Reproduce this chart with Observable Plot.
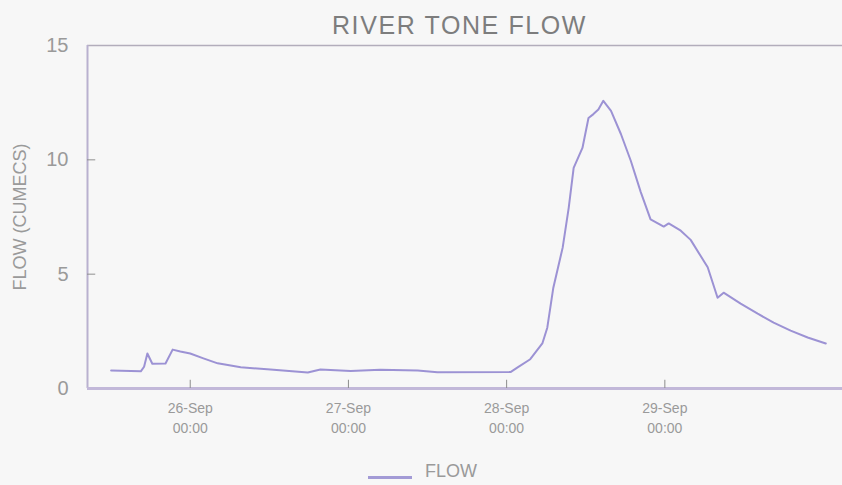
<!DOCTYPE html>
<html>
<head>
<meta charset="utf-8">
<script src="https://cdn.jsdelivr.net/npm/d3@7"></script>
<script src="https://cdn.jsdelivr.net/npm/@observablehq/plot@0.6"></script>
<style>
  html, body { margin: 0; padding: 0; background: #f7f7f7; }
  #wrap { position: relative; width: 842px; height: 485px; overflow: hidden; font-family: "Liberation Sans", Arial, sans-serif; }
  #legend { position: absolute; left: 368px; top: 462px; display: flex; align-items: flex-end; gap: 13px; }
  #legend .sw { width: 44px; height: 3px; background: #a39bd6; margin-bottom: 1px; }
  #legend .lb { font-size: 18px; line-height: 18px; color: #9a9a9a; }
</style>
</head>
<body>
<div id="wrap">
  <div id="chart"></div>
  <div id="legend"><span class="sw"></span><span class="lb">FLOW</span></div>
</div>
<script>
const title = "RIVER TONE FLOW";
const yLabel = "FLOW (CUMECS)";
const seriesName = "FLOW";

const times = [
  "2023-09-25T12:00", "2023-09-25T16:30", "2023-09-25T17:00", "2023-09-25T17:30",
  "2023-09-25T18:15", "2023-09-25T20:15", "2023-09-25T21:20", "2023-09-25T22:30",
  "2023-09-26T00:00", "2023-09-26T02:00", "2023-09-26T04:10", "2023-09-26T07:40",
  "2023-09-26T12:10", "2023-09-26T17:50", "2023-09-26T19:45", "2023-09-27T00:20",
  "2023-09-27T04:50", "2023-09-27T10:30", "2023-09-27T13:30", "2023-09-28T00:35",
  "2023-09-28T01:40", "2023-09-28T03:35", "2023-09-28T05:25", "2023-09-28T06:10",
  "2023-09-28T07:05", "2023-09-28T08:30", "2023-09-28T09:25", "2023-09-28T10:10",
  "2023-09-28T11:30", "2023-09-28T12:25", "2023-09-28T13:10", "2023-09-28T13:55",
  "2023-09-28T14:40", "2023-09-28T15:50", "2023-09-28T17:20", "2023-09-28T18:50",
  "2023-09-28T20:20", "2023-09-28T21:50", "2023-09-28T23:50", "2023-09-29T00:35",
  "2023-09-29T02:25", "2023-09-29T03:55", "2023-09-29T06:30", "2023-09-29T08:00",
  "2023-09-29T08:55", "2023-09-29T11:30", "2023-09-29T14:05", "2023-09-29T16:30",
  "2023-09-29T19:05", "2023-09-29T21:40", "2023-09-30T00:25"
];
const flow = [
  0.79, 0.75, 0.95, 1.53,
  1.08, 1.09, 1.70, 1.62,
  1.53, 1.32, 1.10, 0.93,
  0.83, 0.70, 0.83, 0.76,
  0.82, 0.79, 0.71, 0.72,
  0.92, 1.28, 1.97, 2.66,
  4.41, 6.16, 7.90, 9.65,
  10.52, 11.83, 12.00, 12.20,
  12.58, 12.14, 11.13, 9.96,
  8.60, 7.40, 7.08, 7.22,
  6.90, 6.50, 5.30, 3.97,
  4.19, 3.71, 3.27, 2.88,
  2.53, 2.23, 1.97
];
const yTicks = [0, 5, 10, 15];
const yInnerTicks = [5, 10];
const dayTicks = ["2023-09-26T00:00", "2023-09-27T00:00", "2023-09-28T00:00", "2023-09-29T00:00"];

const data = times.map((t, i) => ({date: new Date(t + "Z"), flow: flow[i]}));
const dayDates = dayTicks.map(t => new Date(t + "Z"));
const xDomain = [new Date("2023-09-25T08:25:00Z"), new Date("2023-09-30T02:57:00Z")];
const yTickEnd = new Date(xDomain[0].getTime() + 75 * 60000);
const fmtDay = d3.utcFormat("%d-%b");
const fmtTime = d3.utcFormat("%H:%M");

const chart = Plot.plot({
  width: 842,
  height: 485,
  marginLeft: 87,
  marginRight: 0,
  marginTop: 45,
  marginBottom: 97,
  style: {background: "transparent", fontFamily: "'Liberation Sans', Arial, sans-serif", overflow: "visible"},
  x: {type: "utc", domain: xDomain},
  y: {domain: [0, 15]},
  marks: [
    Plot.ruleY([15], {stroke: "#b2adbb", strokeWidth: 1.5}),
    Plot.ruleX([xDomain[0]], {stroke: "#b9b1cf", strokeWidth: 2}),
    Plot.ruleY([0], {stroke: "#c2b8d9", strokeWidth: 3}),
    Plot.ruleY(yInnerTicks, {x1: xDomain[0], x2: yTickEnd, stroke: "#8f8f8f", strokeWidth: 1}),
    Plot.ruleX(dayDates, {y1: 0, y2: 0.36, stroke: "#8c8c8c", strokeWidth: 1}),
    Plot.axisY({ticks: yTicks, tickSize: 0, tickPadding: 19, fontSize: 20, fill: "#9a9a9a", label: null}),
    Plot.axisX({ticks: dayDates, tickSize: 0, tickPadding: 11, fontSize: 14, lineHeight: 1.4, fill: "#9a9a9a", label: null,
      tickFormat: d => fmtDay(d) + "\n" + fmtTime(d)}),
    Plot.lineY(data, {x: "date", y: "flow", stroke: "#9c92d4", strokeWidth: 2}),
    Plot.text([yLabel], {frameAnchor: "left", dx: -67, rotate: -90, textAnchor: "middle", fontSize: 18, fill: "#9a9a9a", text: d => d}),
    Plot.text([title], {frameAnchor: "top-left", dx: 372, dy: -12, lineAnchor: "bottom", textAnchor: "middle", fontSize: 25, fill: "#7d7d7d", text: d => d})
  ]
});
chart.querySelectorAll("text").forEach(t => {
  if (t.textContent === title) t.style.letterSpacing = "1.6px";
});
document.getElementById("chart").appendChild(chart);
</script>
</body>
</html>
